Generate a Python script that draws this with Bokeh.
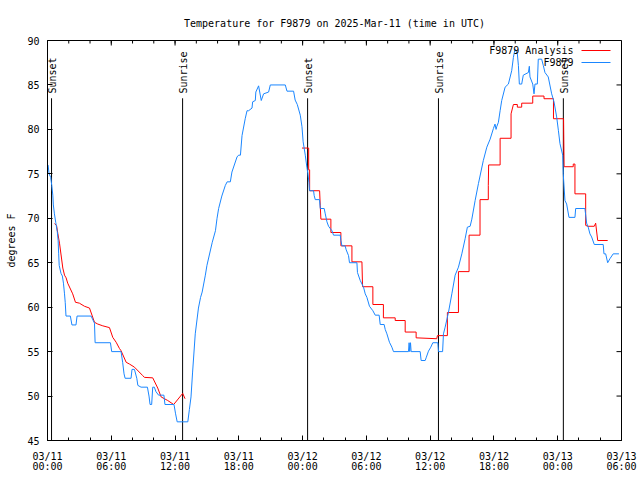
import numpy as np
from bokeh.plotting import figure
from bokeh.models import FixedTicker, Label
from bokeh.embed import file_html
from bokeh.resources import INLINE
from bokeh.core.properties import value

# ---------------- data (hours since 2025-03-11 00:00 UTC) ----------------
obs_hours = [0.05, 0.15, 0.3, 0.4, 0.5, 0.55, 0.65, 0.78, 0.92, 1.0, 1.05, 1.1, 1.27, 1.4, 1.5, 1.6, 1.67, 1.74,
             2.15, 2.3, 2.68, 2.78, 4.1, 4.42, 4.48, 5.92, 6.04, 6.92, 7.07, 7.2, 7.3, 7.86, 7.95, 8.18, 8.4, 8.5,
             8.8, 9.4, 9.55, 9.65, 9.8, 9.9, 10.05, 10.2, 10.45, 10.95, 11.05, 11.9, 12.05, 12.2, 13.2, 13.35,
             13.5, 13.65, 13.9, 14.2, 14.4, 14.55, 14.85, 15.0, 15.5, 15.8, 15.95, 16.1, 16.4, 16.73, 16.9, 17.2,
             17.35, 17.83, 17.98, 18.15, 18.3, 18.6, 18.77, 18.92, 19.24, 19.3, 19.55, 19.6, 19.86, 20.11, 20.33,
             20.8, 20.96, 22.37, 22.53, 23.15, 23.3, 23.5, 23.78, 23.94, 24.05, 24.25, 24.4, 24.5, 24.6, 24.65,
             25.03, 25.09, 25.19, 25.59, 25.66, 26.03, 26.13, 26.29, 26.44, 26.76, 26.91, 27.54, 27.6, 27.7, 28.0,
             28.1, 28.32, 28.41, 29.11, 29.16, 29.42, 29.73, 29.89, 30.05, 30.29, 30.61, 30.83, 31.2, 31.3, 31.67,
             31.77, 31.93, 32.17, 32.4, 32.55, 33.96, 34.02, 34.08, 34.15, 34.21, 35.06, 35.15, 35.53, 35.62,
             35.84, 36.06, 36.25, 36.72, 36.78, 37.17, 37.25, 37.41, 37.72, 38.04, 38.35, 38.66, 38.98, 39.29,
             39.5, 39.76, 39.92, 40.23, 40.54, 41.0, 41.33, 41.64, 41.95, 42.1, 42.2, 42.26, 42.42, 42.58, 42.73,
             43.05, 43.36, 43.67, 43.83, 43.98, 44.2, 44.3, 44.39, 44.61, 44.76, 45.24, 45.33, 45.39, 45.65,
             45.77, 45.86, 46.08, 46.17, 46.49, 46.64, 46.8, 47.11, 47.43, 47.65, 47.9, 48.06, 48.21, 48.47,
             48.52, 48.68, 48.84, 49.06, 49.62, 49.69, 50.56, 50.72, 50.87, 51.03, 51.19, 51.44, 52.28, 52.35,
             52.51, 52.7, 52.91, 53.22, 53.76]
obs_temp = [76.0, 75.0, 74.6, 73.7, 72.6, 71.5, 70.5, 69.5, 68.5, 67.5, 66.0, 64.7, 63.8, 63.5, 62.7, 61.5, 60.5, 59.0,
            59.0, 58.0, 58.0, 59.0, 59.0, 58.2, 56.0, 56.0, 55.0, 55.0, 53.8, 52.5, 52.0, 52.0, 53.0, 53.0, 52.0, 51.2,
            51.0, 51.0, 50.0, 49.05, 49.05, 51.0, 51.0, 50.5, 50.1, 50.1, 49.05, 49.05, 48.0, 47.1, 47.1, 48.5,
            49.9, 52.7, 57.0, 59.9, 61.1, 61.7, 63.6, 64.7, 67.3, 68.6, 70.0, 71.1, 72.5, 73.7, 74.1, 74.1,
            75.2, 76.9, 77.1, 77.1, 79.3, 81.2, 82.1, 82.1, 82.4, 83.1, 83.25, 84.2, 84.9, 83.25, 84.0,
            84.2, 85.0, 85.0, 84.3, 84.3, 83.3, 82.8, 81.6, 80.3, 78.6, 77.1, 75.75, 75.0, 74.0, 73.1,
            73.1, 72.55, 72.1, 72.1, 71.1, 71.1, 70.5, 69.6, 69.1, 68.6, 68.1, 68.1, 67.5, 66.9, 66.9,
            66.45, 65.8, 65.0, 65.0, 63.9, 63.0, 62.25, 61.5, 61.1, 60.1, 59.6, 59.1, 59.1, 58.05, 58.05,
            57.5, 57.0, 56.05, 55.5, 55.0, 55.0, 56.0, 55.0, 56.0, 55.0, 55.0, 54.0, 54.0, 54.3,
            55.05, 55.5, 56.0, 56.0, 55.0, 55.0, 57.0, 57.75, 59.4, 61.5, 63.6, 64.5, 66.0, 67.7,
            69.0, 69.1, 69.9, 72.0, 73.9, 76.5, 78.0, 78.9, 80.1, 80.6, 80.0, 80.3, 80.8, 82.1, 83.25,
            84.75, 85.1, 86.6, 88.1, 89.05, 88.5, 87.2, 85.1, 85.1, 86.1, 86.4, 87.1, 85.9, 85.1,
            84.0, 85.1, 85.1, 87.9, 87.9, 87.2, 86.4, 85.9, 84.0, 83.1, 81.4, 79.9, 78.4, 77.1,
            75.0, 72.0, 71.6, 70.1, 70.1, 71.1, 71.1, 69.45, 69.0, 68.25, 67.9, 67.05, 67.05, 66.0,
            66.0, 65.0, 65.45, 66.0, 66.0]

ana1_hours = [0.66, 0.85, 0.97, 1.13, 1.44, 1.6, 1.75, 1.9, 2.37, 2.63, 3.0, 3.48, 3.95, 4.42, 4.73, 5.2, 5.83,
              6.14, 6.46, 6.77, 6.92, 7.4, 7.71, 8.18, 8.96, 9.12, 9.9, 10.37, 10.69, 11.31, 11.87, 12.72, 12.94]
ana1_temp = [69.4, 69.2, 68.3, 67.2, 64.4, 63.6, 63.3, 62.7, 61.5, 60.55, 60.45, 60.1, 59.9, 58.3, 58.1, 57.9, 57.7,
             56.6, 56.05, 55.35, 55.1, 53.8, 53.6, 53.25, 52.3, 52.1, 52.05, 50.9, 49.9, 49.5, 49.05, 50.3, 49.7]

ana2_hours = [23.94, 24.57, 24.57, 24.66, 24.66, 25.6, 25.66, 25.72, 26.66, 26.66, 27.6, 27.6, 28.64, 28.64, 29.58,
              29.64, 30.61, 30.61, 31.6, 31.6, 32.71, 32.71, 33.65, 33.65, 34.68, 34.68, 36.62, 36.68, 37.62, 37.62,
              38.66, 38.66, 39.66, 39.66, 40.69, 40.69, 41.47, 41.47, 41.5, 42.58, 42.58, 43.61, 43.61, 43.83,
              44.2, 44.2, 44.61, 44.61, 45.65, 45.65, 46.71, 46.71, 47.6, 47.6, 48.55, 48.6, 49.46, 49.46, 49.62,
              49.62, 50.63, 50.63, 50.82, 51.44, 51.57, 51.76, 52.7]
ana2_temp = [77.9, 77.9, 75.45, 75.45, 73.1, 73.1, 71.4, 69.9, 69.9, 68.4, 68.4, 66.9, 66.9, 65.1, 65.1,
             62.3, 62.3, 60.3, 60.3, 58.8, 58.8, 58.5, 58.5, 57.2, 57.2, 56.55, 56.45, 56.8, 56.8, 59.4,
             59.4, 64.0, 64.0, 68.1, 68.1, 72.1, 72.1, 73.7, 76.0, 76.0, 79.0, 79.0, 81.75, 82.8,
             82.8, 82.5, 82.5, 82.95, 82.95, 83.75, 83.75, 83.45, 83.45, 81.2, 81.2, 75.8, 75.8, 76.1, 76.1,
             72.75, 72.75, 69.2, 69.1, 69.1, 69.45, 67.5, 67.5]

sun_hours = [0.38, 12.71, 24.47, 36.78, 48.53]
sun_labels = ["Sunset", "Sunrise", "Sunset", "Sunrise", "Sunset"]

x_tick_hours = [0, 6, 12, 18, 24, 30, 36, 42, 48, 54]
x_tick_labels = ["03/11\n00:00", "03/11\n06:00", "03/11\n12:00", "03/11\n18:00", "03/12\n00:00",
                 "03/12\n06:00", "03/12\n12:00", "03/12\n18:00", "03/13\n00:00", "03/13\n06:00"]
x_minor_hours = list(range(0, 55, 2))
y_ticks = [45, 50, 55, 60, 65, 70, 75, 80, 85, 90]

series_names = ["F9879 Analysis", "F9879"]
title_text = "Temperature for F9879 on 2025-Mar-11 (time in UTC)"
y_label = "degrees F"

# ---------------- layout ----------------
X0, X1 = 0, 54
Y0, Y1 = 45, 90
FONT = "DejaVu Sans Mono"
FS = "10px"
RED = "#ff0000"
BLUE = "#1a86ff"

# reference-image pixel positions -> data coordinates (frame is 47..621 x 40..440)
def fx(px):
    return X0 + (px - 47) * (X1 - X0) / 574.0

def fy(py):
    return Y1 - (py - 40) * (Y1 - Y0) / 400.0

p = figure(width=640, height=480, x_range=(X0, X1), y_range=(Y0, Y1),
           output_backend="svg", toolbar_location=None,
           min_border_left=47, min_border_right=19, min_border_top=40, min_border_bottom=40)
p.background_fill_color = "white"
p.border_fill_color = "white"
p.outline_line_color = "black"
p.outline_line_width = 1
p.xgrid.visible = False
p.ygrid.visible = False

# title
p.title.text = title_text
p.title.align = "center"
p.title.text_font = FONT
p.title.text_font_size = FS
p.title.text_font_style = "normal"
p.title.text_color = "black"
p.title.standoff = 24

xt = FixedTicker(ticks=x_tick_hours, minor_ticks=x_minor_hours)
yt = FixedTicker(ticks=y_ticks, minor_ticks=[])

for ax in list(p.xaxis) + list(p.yaxis):
    ax.axis_line_color = "black"
    ax.major_tick_line_color = "black"
    ax.minor_tick_line_color = "black"
    ax.major_tick_in = 5
    ax.major_tick_out = 0
    ax.minor_tick_in = 3
    ax.minor_tick_out = 0
    ax.major_label_text_font = FONT
    ax.major_label_text_font_size = FS
    ax.major_label_text_color = "black"

xa = p.xaxis[0]
xa.ticker = xt
xa.major_label_overrides = {h: lab for h, lab in zip(x_tick_hours, x_tick_labels)}
xa.major_label_standoff = 10
xa.major_label_text_line_height = 0.92

ya = p.yaxis[0]
ya.ticker = yt
ya.major_label_standoff = 8
ya.axis_label = y_label
ya.axis_label_text_font = FONT
ya.axis_label_text_font_size = FS
ya.axis_label_text_font_style = "normal"
ya.axis_label_text_color = "black"
ya.axis_label_standoff = 7

# mirrored inward ticks on the top and right borders
p.ray(x=x_tick_hours, y=[Y1] * len(x_tick_hours), length=5, length_units="screen",
      angle=-np.pi / 2, line_color="black", line_width=1)
p.ray(x=x_minor_hours, y=[Y1] * len(x_minor_hours), length=3, length_units="screen",
      angle=-np.pi / 2, line_color="black", line_width=1)
p.ray(x=[X1] * len(y_ticks), y=y_ticks, length=5, length_units="screen",
      angle=np.pi, line_color="black", line_width=1)

# sunrise / sunset markers
n = len(sun_hours)
line_top = 83.5
p.segment(x0=sun_hours, y0=[Y0] * n, x1=sun_hours, y1=[line_top] * n, line_color="black", line_width=1)
p.text(x=sun_hours, y=[fy(93)] * n, text=sun_labels, angle=np.pi / 2, x_offset=1,
       text_font=value(FONT), text_font_size=FS, text_align="left", text_baseline="middle",
       text_color="black")

# series
p.line(ana1_hours, ana1_temp, line_color=RED, line_width=1)
p.line(ana2_hours, ana2_temp, line_color=RED, line_width=1)
p.line(obs_hours, obs_temp, line_color=BLUE, line_width=1)

# legend (gnuplot style: text left of sample)
for i, (name, col) in enumerate(zip(series_names, [RED, BLUE])):
    yy = fy(50 + 12 * i)
    p.add_layout(Label(x=fx(573), y=yy, text=name, text_font=FONT, text_font_size=FS,
                       text_align="right", text_baseline="middle", text_color="black"))
    p.segment(x0=[fx(581)], y0=[yy], x1=[fx(610)], y1=[yy], line_color=col, line_width=1)

open("out.html", "w").write(file_html(p, INLINE))
